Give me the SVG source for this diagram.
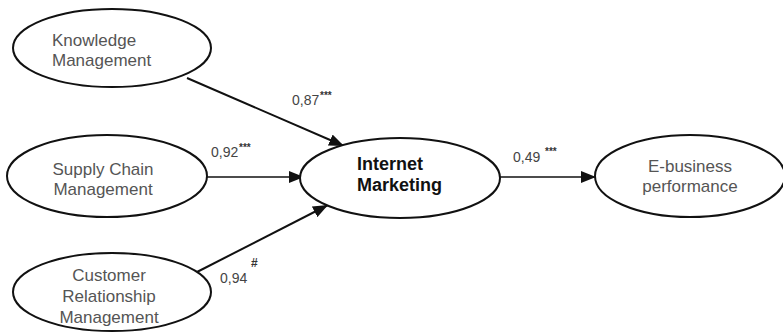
<svg xmlns="http://www.w3.org/2000/svg" width="783" height="332" viewBox="0 0 783 332">
<style>
.node ellipse{fill:#fff;stroke:#111;stroke-width:2}
.lbl{font-family:"Liberation Sans",Arial,sans-serif;font-size:17px;fill:#555;text-anchor:middle}
.left{text-anchor:start}
.main{font-family:"Liberation Sans",Arial,sans-serif;font-size:18px;font-weight:bold;fill:#111}
.coef{font-family:"Liberation Sans",Arial,sans-serif;font-size:14px;fill:#444}
.sup{font-family:"Liberation Sans",Arial,sans-serif;font-size:10px;fill:#333;font-weight:bold}
.conn line{stroke:#111;marker-end:url(#ah)}
</style>
<defs>
<marker id="ah" markerUnits="userSpaceOnUse" markerWidth="16" markerHeight="12" refX="15" refY="6" orient="auto">
<path d="M0,0 L15,6 L0,12 Z" fill="#111"/>
</marker>
</defs>
<rect width="783" height="332" fill="#fff"/>
<g id="connectors" class="conn">
<line x1="187" y1="78" x2="344" y2="146" stroke-width="2"/>
<line x1="207" y1="177" x2="304" y2="177" stroke-width="1.3"/>
<line x1="197" y1="272" x2="328" y2="205" stroke-width="2"/>
<line x1="500" y1="177" x2="596" y2="177" stroke-width="1.3"/>
</g>
<g id="knowledge-management" class="node">
<ellipse cx="112" cy="48" rx="99" ry="39"/>
<text class="lbl left" x="52" y="46">Knowledge</text>
<text class="lbl left" x="52" y="66">Management</text>
</g>
<g id="supply-chain-management" class="node">
<ellipse cx="107" cy="176" rx="100" ry="41"/>
<text class="lbl" x="103" y="175">Supply Chain</text>
<text class="lbl" x="103" y="195">Management</text>
</g>
<g id="customer-relationship-management" class="node">
<ellipse cx="112" cy="292" rx="99" ry="39"/>
<text class="lbl" x="109" y="281">Customer</text>
<text class="lbl" x="109" y="302">Relationship</text>
<text class="lbl" x="109" y="323">Management</text>
</g>
<g id="internet-marketing" class="node">
<ellipse cx="400" cy="178" rx="100" ry="40"/>
<text class="main" x="357" y="170">Internet</text>
<text class="main" x="357" y="191">Marketing</text>
</g>
<g id="e-business-performance" class="node">
<ellipse cx="690" cy="176" rx="95" ry="41"/>
<text class="lbl" x="690" y="172">E-business</text>
<text class="lbl" x="690" y="192">performance</text>
</g>
<g id="labels">
<text class="coef" x="292" y="105">0,87</text><text class="sup" x="320" y="99">***</text>
<text class="coef" x="211" y="157">0,92</text><text class="sup" x="239" y="151">***</text>
<text class="coef" x="513" y="162">0,49</text><text class="sup" x="545" y="155">***</text>
<text class="coef" x="220" y="283">0,94</text><text class="sup" x="251" y="267" style="font-size:12px">#</text>
</g>
</svg>
